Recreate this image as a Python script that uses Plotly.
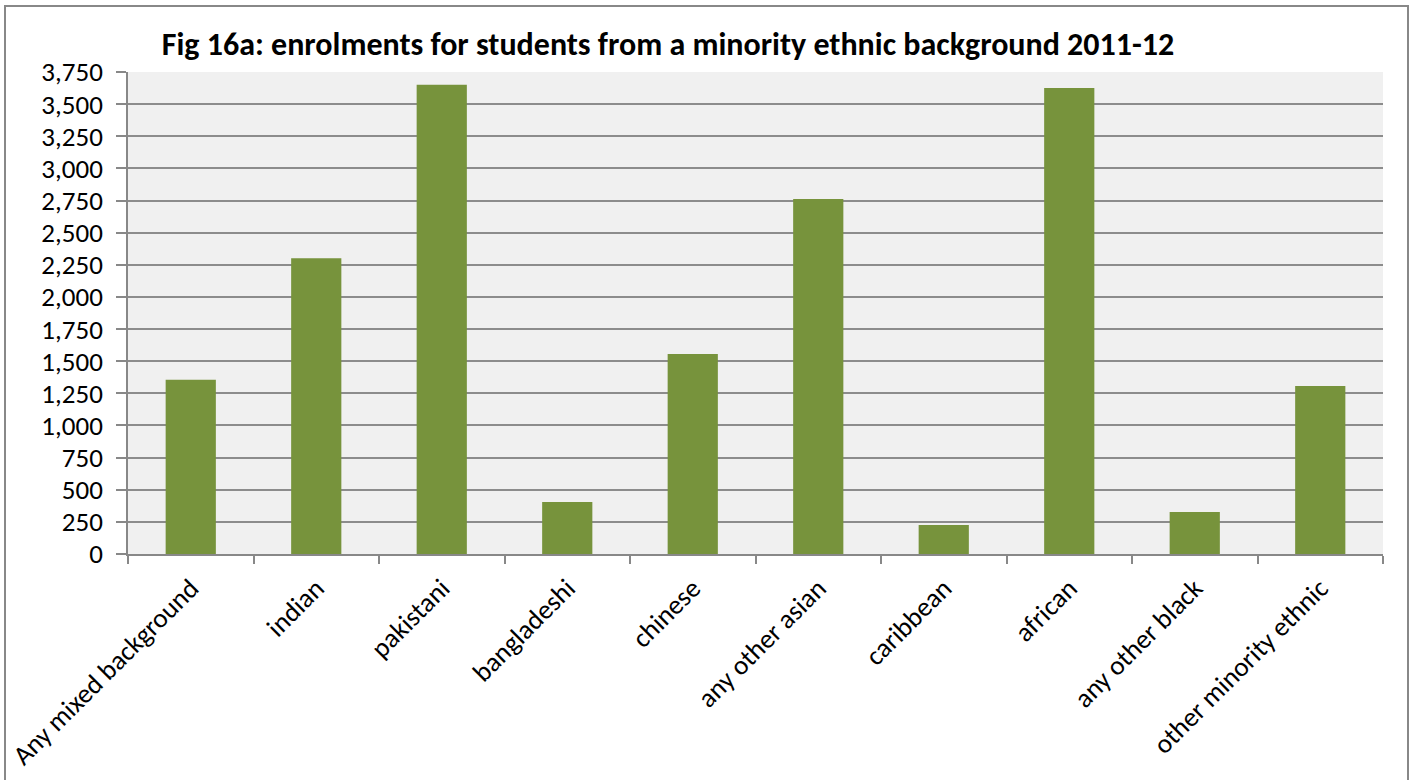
import plotly.graph_objects as go

categories = ["Any mixed background", "indian", "pakistani", "bangladeshi", "chinese",
              "any other asian", "caribbean", "african", "any other black", "other minority ethnic"]
enrolments = [1355, 2300, 3650, 405, 1556, 2762, 226, 3626, 327, 1307]
tick_vals = list(range(0, 3751, 250))
tick_text = [f"{v:,}" for v in tick_vals]

W, H = 1418, 780
L, R, T, B = 128, 35, 72, 226
pw, ph = W - L - R, H - T - B

fig = go.Figure(go.Bar(x=categories, y=enrolments, marker=dict(color="#77933C", line=dict(width=0)),
                       width=0.4))

font_family = "Carlito, Calibri, Lato, sans-serif"

fig.update_layout(
    width=W, height=H,
    margin=dict(l=L, r=R, t=T, b=B, autoexpand=False),
    paper_bgcolor="white",
    plot_bgcolor="#F0F0F0",
    font=dict(family=font_family, color="black", size=26),
    title=dict(text="<b>Fig 16a: enrolments for students from a minority ethnic background 2011-12</b>",
               x=668 / W, xanchor="center", xref="container",
               y=1 - 44 / H, yanchor="middle", yref="container",
               font=dict(size=32, family=font_family, color="black")),
    showlegend=False,
    bargap=0.6,
)
fig.update_xaxes(
    tickangle=-45, showline=True, linecolor="#888888", linewidth=1.5,
    ticks="outside", ticklen=8, tickcolor="#888888", tickwidth=1.5,
    tickson="boundaries", showgrid=False, tickfont=dict(size=27), automargin=False,
    ticklabelstandoff=6,
)
fig.update_yaxes(
    range=[0, 3750], tickvals=tick_vals, ticktext=tick_text,
    showline=True, linecolor="#888888", linewidth=1.5,
    ticks="outside", ticklen=10, tickcolor="#888888", tickwidth=1.5,
    showgrid=True, gridcolor="#8C8C8C", gridwidth=1.5, zeroline=False,
    tickfont=dict(size=27), automargin=False, ticklabelstandoff=8,
)
# outer chart frame
fig.add_shape(type="rect", xref="paper", yref="paper",
              x0=(5 - L) / pw, x1=(1408 - L) / pw,
              y0=(H - B - 800) / ph, y1=(H - B - 6) / ph,
              line=dict(color="#888888", width=2), fillcolor="rgba(0,0,0,0)", layer="below")

fig.write_html("out.html", post_script="document.body.style.margin='0px';",
               config={"displayModeBar": False})
